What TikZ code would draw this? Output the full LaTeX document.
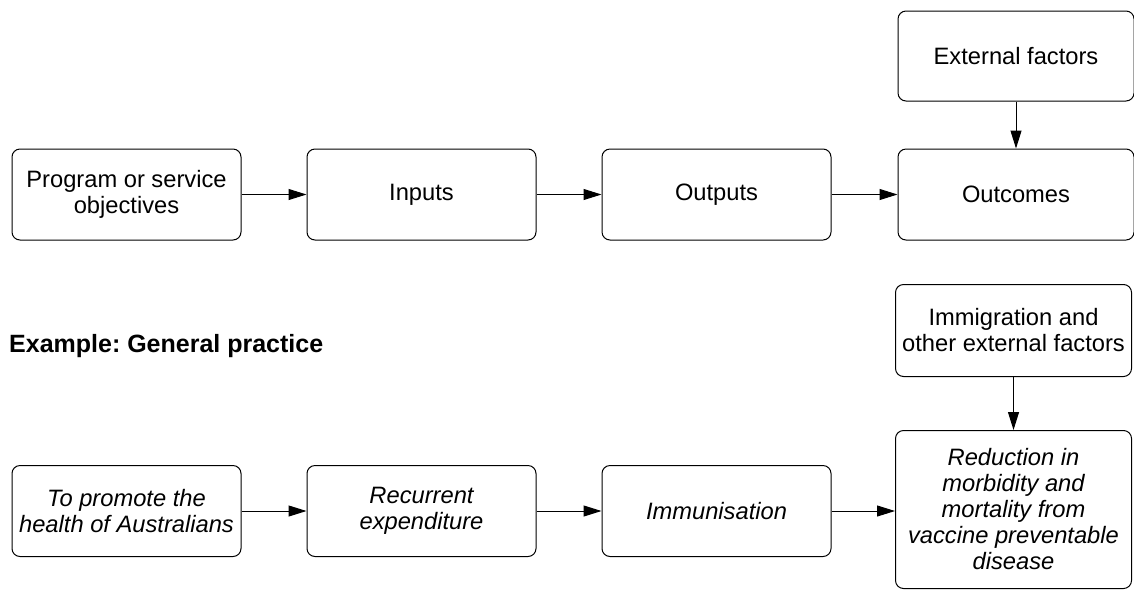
\documentclass[tikz,border=0pt]{standalone}
\usepackage{fontspec}
\setmainfont{Liberation Sans}
\usetikzlibrary{positioning, arrows.meta}
\frenchspacing

\begin{document}
\begin{tikzpicture}[
                x=1pt, y=1pt,
                box/.style={rectangle, draw, line width=1pt, rounded corners=8pt, minimum width=229pt, minimum height=91pt, align=center, inner xsep=0pt, font=\fontsize{23.7}{26}\selectfont},
                ibox/.style={box, font=\fontsize{23.7}{26}\selectfont\itshape},
                line/.style={draw, line width=1pt, -{Triangle[length=18pt, width=11pt]}}
            ]
                \useasboundingbox (0,0) rectangle (1134,-590);

                % Program logic
                \node[box] (obj) at (126.5,-194.5) {Program or service \\ objectives};
                \node[box, right=65pt of obj] (inp) {Inputs};
                \node[box, right=65pt of inp] (outp) {Outputs};
                \node[box, minimum width=236pt, right=66pt of outp] (outc) {Outcomes};
                \node[box, minimum width=236pt, minimum height=90pt, above=47pt of outc] (ext) {External factors};

                \path[line] (obj) -- (inp);
                \path[line] (inp) -- (outp);
                \path[line] (outp) -- (outc);
                \path[line] (ext) -- (outc);

                % Example: General practice
                \node[anchor=base west, inner sep=0pt, font=\fontsize{25}{28}\selectfont\bfseries] (title) at (9,-352) {Example: General practice};

                \node[ibox] (aim) at (126.5,-511) {To promote the \\ health of Australians};
                \node[ibox, right=65pt of aim] (rec) {Recurrent \\ expenditure};
                \node[ibox, right=65pt of rec] (imm) {Immunisation};
                \node[ibox, minimum width=236pt, minimum height=158pt, anchor=north west] (red) at (895,-430) {Reduction in \\ morbidity and \\ mortality from \\ vaccine preventable \\ disease};
                \node[box, minimum width=236pt, minimum height=92pt, above=53pt of red] (imgr) {Immigration and \\ other external factors};

                \path[line] (aim) -- (rec);
                \path[line] (rec) -- (imm);
                \path[line] (imm.east) -- (imm.east -| red.west);
                \path[line] (imgr) -- (red);
            \end{tikzpicture}
\end{document}
